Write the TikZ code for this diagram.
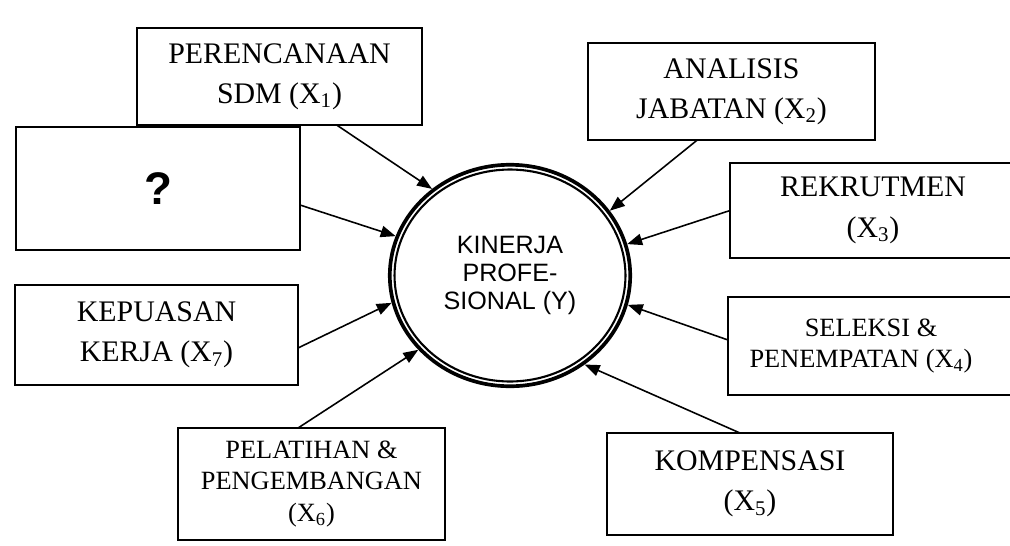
\documentclass[tikz,border=0pt]{standalone}
\usepackage{fontspec}
\setmainfont{Liberation Serif}
\newfontfamily\arialfont{Liberation Sans}
\usetikzlibrary{arrows.meta,shapes.geometric}

\begin{document}
\begin{tikzpicture}[
    x=0.02cm, y=-0.02cm,
    factor/.style={draw, line width=1pt, inner sep=0pt, outer sep=0pt,
                   minimum width=5.7cm, minimum height=1.95cm,
                   align=center, font=\fontsize{17}{23}\selectfont},
    smallfactor/.style={factor, font=\fontsize{15}{18}\selectfont},
    arrow/.style={-{Triangle[length=8.5pt,width=6.5pt]}, line width=0.9pt},
    target/.style={ellipse, draw, line width=2.1pt, inner sep=0pt,
                   minimum width=4.81cm, minimum height=4.43cm, align=center,
                   font=\arialfont\fontsize{14.3}{16}\selectfont}
  ]
  \clip (0,0) rectangle (1010,545);

  % dependent variable
  \node[target] (kin) at (510,275.5) {KINERJA\\PROFE-\\SIONAL (Y)};
  \draw[line width=1.2pt] (kin.center) ellipse [x radius=2.31cm, y radius=2.12cm];

  % factors, left side
  \node[factor] (x1) at (279.5,76.5) {PERENCANAAN\\SDM (X\textsubscript{1})};
  \node[factor, minimum width=5.68cm, minimum height=2.46cm,
        font=\arialfont\bfseries\fontsize{26}{26}\selectfont] (unk) at (158,188.5) {?};
  \node[factor, minimum width=5.66cm, minimum height=2cm] (x7) at (156.5,335) {KEPUASAN\\KERJA (X\textsubscript{7})};
  \node[smallfactor, minimum width=5.34cm, minimum height=2.24cm] (x6) at (311.5,484) {PELATIHAN \&\\PENGEMBANGAN\\(X\textsubscript{6})};

  % factors, right side
  \node[factor, minimum width=5.74cm] (x2) at (731.5,91.5) {ANALISIS\\JABATAN (X\textsubscript{2})};
  \node[factor, minimum width=5.72cm, minimum height=1.9cm] (x3) at (873,210.5) {REKRUTMEN\\(X\textsubscript{3})};
  \node[smallfactor, minimum width=5.72cm, minimum height=1.96cm] (x4) at (871,346) {SELEKSI \&\\PENEMPATAN (X\textsubscript{4})\hspace*{0.4cm}};
  \node[factor, minimum width=5.72cm, minimum height=2.04cm] (x5) at (750,484) {KOMPENSASI\\(X\textsubscript{5})};

  \draw[arrow] ([xshift=1.15cm]x1.south) -- (kin.132.5);
  \draw[arrow] ([yshift=-0.33cm]unk.east) -- (kin.161.9);
  \draw[arrow] ([yshift=-0.26cm]x7.east) -- (kin.193.1);
  \draw[arrow] ([xshift=-0.27cm]x6.north) -- (kin.219.4);
  \draw[arrow] ([xshift=-0.69cm]x2.south) -- (kin.33.9);
  \draw[arrow] (x3.west) -- (kin.15.6);
  \draw[arrow] ([yshift=0.12cm]x4.west) -- (kin.-14.2);
  \draw[arrow] ([xshift=-0.2cm]x5.north) -- (kin.-50.3);

\end{tikzpicture}
\end{document}
